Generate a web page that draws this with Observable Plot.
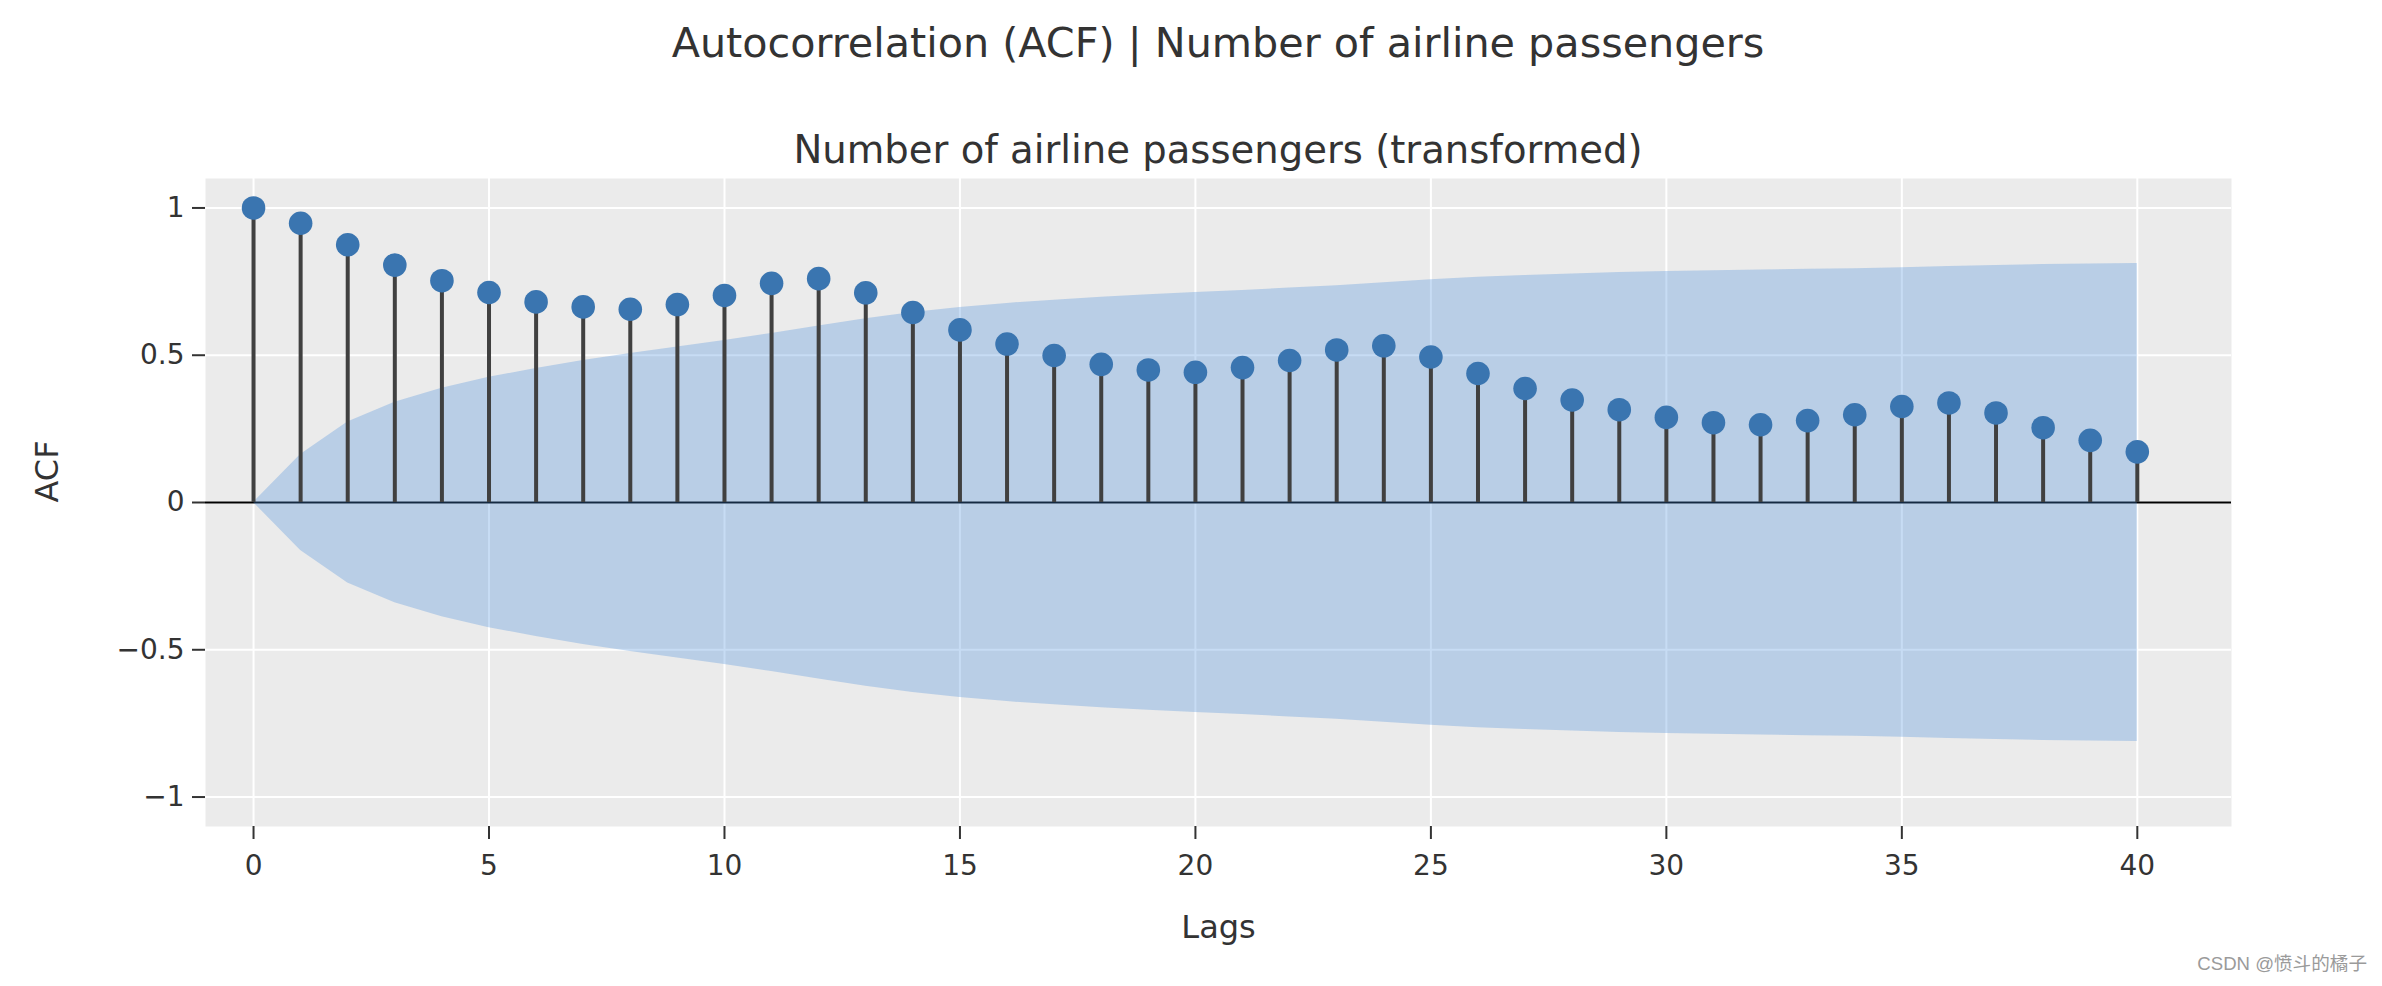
<!DOCTYPE html>
<html>
<head>
<meta charset="utf-8">
<script src="https://cdn.jsdelivr.net/npm/d3@7"></script>
<script src="https://cdn.jsdelivr.net/npm/@observablehq/plot@0.6"></script>
<style>
  html, body { margin: 0; padding: 0; background: #fff; }
  #wrap { position: relative; width: 2382px; height: 986px; overflow: hidden;
          font-family: "DejaVu Sans", Verdana, sans-serif; color: #333; }
  #head { position: relative; height: 178px; }
  .t { position: absolute; white-space: nowrap; line-height: 1; transform: translateX(-50%); margin: 0; font-weight: normal; }
  #title { left: 1218px; top: 23px; font-size: 41.3px; }
  #subtitle { left: 1218px; top: 131px; font-size: 38.6px; }
  #wm { position: absolute; right: 15px; top: 955px; line-height: 1; white-space: nowrap;
        font-family: "Liberation Sans", Arial, "Noto Sans CJK SC", sans-serif; font-size: 18.6px; color: #9a9a9a; }
</style>
</head>
<body>
<div id="wrap">
  <div id="head">
    <div class="t" id="title"></div>
    <div class="t" id="subtitle"></div>
  </div>
  <div id="chart"></div>
  <div id="wm"></div>
</div>
<script>
// ---- data ----
const titleText = "Autocorrelation (ACF) | Number of airline passengers";
const subtitleText = "Number of airline passengers (transformed)";
const xLabel = "Lags";
const yLabel = "ACF";
const watermark = "CSDN @愤斗的橘子";

const lags = [0,1,2,3,4,5,6,7,8,9,10,11,12,13,14,15,16,17,18,19,20,
              21,22,23,24,25,26,27,28,29,30,31,32,33,34,35,36,37,38,39,40];
const acfValues = [1.000, 0.948, 0.875, 0.806, 0.753, 0.713, 0.681, 0.664, 0.656, 0.672, 0.703,
                   0.744, 0.760, 0.712, 0.645, 0.586, 0.538, 0.499, 0.469, 0.450, 0.442,
                   0.458, 0.482, 0.518, 0.532, 0.494, 0.438, 0.387, 0.348, 0.315, 0.289,
                   0.271, 0.264, 0.278, 0.298, 0.326, 0.338, 0.304, 0.254, 0.211, 0.172];
const upperBound = [0.000, 0.163, 0.273, 0.340, 0.388, 0.425, 0.455, 0.482, 0.506, 0.528, 0.550,
                    0.574, 0.599, 0.624, 0.645, 0.662, 0.676, 0.687, 0.697, 0.705, 0.713,
                    0.720, 0.728, 0.736, 0.746, 0.756, 0.765, 0.771, 0.776, 0.781, 0.784,
                    0.787, 0.789, 0.792, 0.794, 0.797, 0.801, 0.805, 0.808, 0.810, 0.811];
const lowerBound = [0.000, -0.163, -0.273, -0.340, -0.388, -0.425, -0.455, -0.482, -0.506, -0.528, -0.550,
                    -0.574, -0.599, -0.624, -0.645, -0.662, -0.676, -0.687, -0.697, -0.705, -0.713,
                    -0.720, -0.728, -0.736, -0.746, -0.756, -0.765, -0.771, -0.776, -0.781, -0.784,
                    -0.787, -0.789, -0.792, -0.794, -0.797, -0.801, -0.805, -0.808, -0.810, -0.811];
const xTicks = [0, 5, 10, 15, 20, 25, 30, 35, 40];
const yTicks = [-1, -0.5, 0, 0.5, 1];

const rows = lags.map((lag, i) => ({lag, acf: acfValues[i], hi: upperBound[i], lo: lowerBound[i]}));

document.getElementById("title").textContent = titleText;
document.getElementById("subtitle").textContent = subtitleText;
document.getElementById("wm").textContent = watermark;

const fmt = d => (d < 0 ? "\u2212" + Math.abs(d) : String(d));

const chart = Plot.plot({
  width: 2382,
  height: 808,
  marginTop: 0,
  marginBottom: 160,
  marginLeft: 205,
  marginRight: 151,
  style: {fontFamily: "'DejaVu Sans', Verdana, sans-serif", color: "#333", background: "white"},
  x: {domain: [-1.02, 42.0]},
  y: {domain: [-1.1, 1.1]},
  marks: [
    Plot.frame({fill: "#ebebeb", stroke: "none"}),
    Plot.gridX(xTicks, {stroke: "white", strokeOpacity: 1, strokeWidth: 2}),
    Plot.gridY(yTicks, {stroke: "white", strokeOpacity: 1, strokeWidth: 2}),
    Plot.ruleY([0], {stroke: "black", strokeWidth: 2}),
    Plot.areaY(rows, {x: "lag", y1: "lo", y2: "hi", fill: "rgb(70,140,220)", fillOpacity: 0.3}),
    Plot.ruleX(rows, {x: "lag", y1: 0, y2: "acf", stroke: "#404040", strokeWidth: 4}),
    Plot.dot(rows, {x: "lag", y: "acf", r: 11.8, fill: "#3a75b0", stroke: "none"}),
    Plot.axisX(xTicks, {anchor: "bottom", tickSize: 13, tickPadding: 16, fontSize: 28,
                        strokeWidth: 2, color: "#333", label: null, tickFormat: fmt}),
    Plot.axisY(yTicks, {anchor: "left", tickSize: 13, tickPadding: 8, fontSize: 28,
                        strokeWidth: 2, color: "#333", label: null, tickFormat: fmt}),
    Plot.text([xLabel], {frameAnchor: "bottom", dy: 111, fontSize: 32, fill: "#333"}),
    Plot.text([yLabel], {frameAnchor: "left", rotate: -90, dx: -158, fontSize: 32, fill: "#333"})
  ]
});
document.getElementById("chart").appendChild(chart);
</script>
</body>
</html>
